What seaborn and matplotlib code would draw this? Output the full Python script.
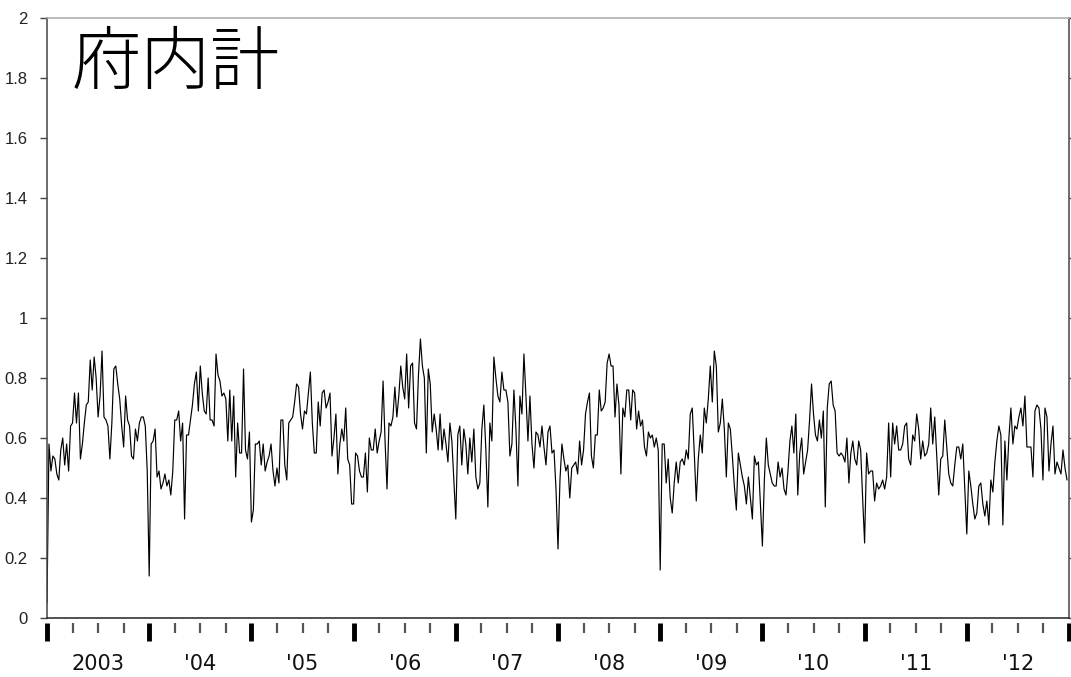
import numpy as np
import pandas as pd
import matplotlib
matplotlib.use("Agg")
import matplotlib.pyplot as plt
import seaborn as sns

# ---- data (weekly values, one list per year) ----
years = [2003, 2004, 2005, 2006, 2007, 2008, 2009, 2010, 2011, 2012]
v2003 = [0.05, 0.58, 0.49, 0.54, 0.53, 0.48, 0.46, 0.56, 0.60, 0.51, 0.58, 0.49, 0.64, 0.65,
         0.75, 0.65, 0.75, 0.53, 0.58, 0.65, 0.71, 0.72, 0.86, 0.76, 0.87, 0.80, 0.67, 0.74,
         0.89, 0.67, 0.66, 0.64, 0.53, 0.65, 0.83, 0.84, 0.78, 0.73, 0.64, 0.57, 0.74, 0.66,
         0.64, 0.54, 0.53, 0.63, 0.59, 0.65, 0.67, 0.67, 0.64, 0.49]
v2004 = [0.14, 0.58, 0.59, 0.63, 0.47, 0.49, 0.43, 0.45, 0.48, 0.44, 0.46, 0.41, 0.49, 0.66,
         0.66, 0.69, 0.59, 0.65, 0.33, 0.61, 0.61, 0.66, 0.71, 0.78, 0.82, 0.69, 0.84, 0.75,
         0.69, 0.68, 0.80, 0.66, 0.66, 0.64, 0.88, 0.81, 0.79, 0.74, 0.75, 0.73, 0.59, 0.76,
         0.59, 0.74, 0.47, 0.65, 0.55, 0.55, 0.83, 0.56, 0.53, 0.62]
v2005 = [0.32, 0.36, 0.58, 0.58, 0.59, 0.51, 0.58, 0.49, 0.52, 0.54, 0.58, 0.49, 0.44, 0.50,
         0.45, 0.66, 0.66, 0.51, 0.46, 0.65, 0.66, 0.67, 0.72, 0.78, 0.77, 0.68, 0.63, 0.69,
         0.68, 0.75, 0.82, 0.65, 0.55, 0.55, 0.72, 0.64, 0.75, 0.76, 0.70, 0.72, 0.75, 0.54,
         0.60, 0.68, 0.48, 0.58, 0.63, 0.59, 0.70, 0.53, 0.51, 0.38]
v2006 = [0.38, 0.55, 0.54, 0.49, 0.47, 0.47, 0.55, 0.42, 0.60, 0.56, 0.56, 0.63, 0.55, 0.59,
         0.62, 0.79, 0.59, 0.43, 0.65, 0.64, 0.67, 0.77, 0.67, 0.74, 0.84, 0.77, 0.73, 0.88,
         0.70, 0.84, 0.85, 0.65, 0.63, 0.81, 0.93, 0.84, 0.80, 0.55, 0.83, 0.78, 0.62, 0.68,
         0.63, 0.56, 0.68, 0.56, 0.63, 0.58, 0.52, 0.65, 0.59, 0.46]
v2007 = [0.33, 0.61, 0.64, 0.51, 0.63, 0.58, 0.48, 0.60, 0.52, 0.63, 0.47, 0.43, 0.45, 0.63,
         0.71, 0.56, 0.37, 0.65, 0.59, 0.87, 0.80, 0.74, 0.72, 0.82, 0.76, 0.76, 0.72, 0.54,
         0.58, 0.76, 0.63, 0.44, 0.74, 0.68, 0.88, 0.74, 0.59, 0.74, 0.58, 0.50, 0.62, 0.61,
         0.57, 0.64, 0.57, 0.51, 0.62, 0.64, 0.55, 0.56, 0.43]
v2008 = [0.23, 0.46, 0.58, 0.53, 0.49, 0.51, 0.40, 0.50, 0.51, 0.52, 0.48, 0.59, 0.51, 0.56,
         0.68, 0.72, 0.75, 0.54, 0.50, 0.61, 0.61, 0.76, 0.69, 0.70, 0.72, 0.85, 0.88, 0.84,
         0.84, 0.67, 0.78, 0.71, 0.48, 0.70, 0.67, 0.76, 0.76, 0.66, 0.76, 0.75, 0.63, 0.69,
         0.64, 0.66, 0.57, 0.54, 0.62, 0.60, 0.61, 0.57, 0.60, 0.56]
v2009 = [0.16, 0.58, 0.58, 0.45, 0.53, 0.40, 0.35, 0.45, 0.52, 0.45, 0.52, 0.53, 0.51, 0.56,
         0.53, 0.68, 0.70, 0.55, 0.39, 0.53, 0.61, 0.55, 0.70, 0.65, 0.73, 0.84, 0.72, 0.89,
         0.84, 0.62, 0.65, 0.73, 0.63, 0.47, 0.65, 0.63, 0.54, 0.44, 0.36, 0.55, 0.51, 0.47,
         0.44, 0.38, 0.47, 0.40, 0.33, 0.54, 0.51, 0.52, 0.38]
v2010 = [0.24, 0.46, 0.60, 0.51, 0.48, 0.45, 0.44, 0.44, 0.52, 0.47, 0.50, 0.43, 0.41, 0.49,
         0.59, 0.64, 0.55, 0.68, 0.41, 0.55, 0.60, 0.48, 0.52, 0.56, 0.66, 0.78, 0.68, 0.61,
         0.59, 0.66, 0.60, 0.69, 0.37, 0.70, 0.78, 0.79, 0.71, 0.69, 0.55, 0.54, 0.55, 0.54,
         0.52, 0.60, 0.45, 0.55, 0.59, 0.53, 0.51, 0.59, 0.56, 0.40]
v2011 = [0.25, 0.55, 0.48, 0.49, 0.49, 0.39, 0.45, 0.43, 0.44, 0.46, 0.43, 0.47, 0.65, 0.47,
         0.65, 0.58, 0.64, 0.56, 0.56, 0.58, 0.64, 0.65, 0.53, 0.51, 0.61, 0.59, 0.68, 0.63,
         0.53, 0.59, 0.54, 0.55, 0.58, 0.70, 0.58, 0.67, 0.54, 0.41, 0.53, 0.54, 0.66, 0.57,
         0.48, 0.45, 0.44, 0.51, 0.57, 0.57, 0.53, 0.58, 0.43]
v2012 = [0.28, 0.49, 0.44, 0.38, 0.33, 0.35, 0.44, 0.45, 0.38, 0.34, 0.39, 0.31, 0.46, 0.42,
         0.52, 0.59, 0.64, 0.61, 0.31, 0.59, 0.46, 0.60, 0.70, 0.58, 0.64, 0.63, 0.67, 0.70,
         0.64, 0.74, 0.57, 0.57, 0.57, 0.47, 0.69, 0.71, 0.70, 0.63, 0.46, 0.70, 0.67, 0.49,
         0.58, 0.64, 0.48, 0.52, 0.50, 0.48, 0.56, 0.50, 0.46]
year_values = [v2003, v2004, v2005, v2006, v2007, v2008, v2009, v2010, v2011, v2012]
year_labels = ["2003", "'04", "'05", "'06", "'07", "'08", "'09", "'10", "'11", "'12"]
title = "府内計"
y_ticks = [0, 0.2, 0.4, 0.6, 0.8, 1.0, 1.2, 1.4, 1.6, 1.8, 2.0]
y_tick_labels = ["0", "0.2", "0.4", "0.6", "0.8", "1", "1.2", "1.4", "1.6", "1.8", "2"]

# build a long table: position in fractional years
rows = []
for yr, vals in zip(years, year_values):
    n = len(vals)
    for i, v in enumerate(vals):
        rows.append({"t": yr + i / n, "value": v})
df = pd.DataFrame(rows)

sns.set_theme(style="white")
plt.rcParams["font.family"] = ["DejaVu Sans"]

fig = plt.figure(figsize=(10.71, 6.77), dpi=100)
ax = fig.add_axes([47 / 1071, 59 / 677, 1022 / 1071, 600 / 677])

sns.lineplot(data=df, x="t", y="value", ax=ax, color="black", linewidth=0.85,
             estimator=None, sort=True)

ax.set_xlim(years[0], years[-1] + 1)
ax.set_ylim(0, 2)
ax.set_xlabel("")
ax.set_ylabel("")

# y axis
ax.set_yticks(y_ticks)
ax.set_yticklabels(y_tick_labels, family=["Liberation Sans Narrow", "Liberation Sans", "DejaVu Sans"],
                   fontsize=12, color="#222222")
ax.tick_params(axis="y", which="major", direction="out", length=5, width=1, color="#444444",
               pad=9, left=True, right=True, labelleft=True, labelright=False)

# x labels centered in each year, no visible tick
ax.set_xticks([y + 0.5 for y in years])
ax.set_xticklabels(year_labels, fontsize=15, color="#111111")
ax.tick_params(axis="x", which="major", length=0, pad=26, bottom=True)

# spines
for side in ["left", "right", "bottom"]:
    ax.spines[side].set_visible(True)
ax.spines["left"].set_color("#444444")
ax.spines["right"].set_color("#444444")
ax.spines["bottom"].set_color("#222222")
ax.spines["top"].set_color("#aaaaaa")
for s in ax.spines.values():
    s.set_linewidth(1.1)

# separate tick band below the axis (years thick, quarters thin)
sec = ax.secondary_xaxis(-5 / 600)
sec.spines["bottom"].set_visible(False)
sec.set_xticks([y for y in years] + [years[-1] + 1])
sec.set_xticks([y + q / 4 for y in years for q in (1, 2, 3)], minor=True)
sec.tick_params(axis="x", which="major", direction="out", length=13, width=3.5, color="black",
                labelbottom=False)
sec.tick_params(axis="x", which="minor", direction="out", length=7.5, width=1.6, color="#555555",
                labelbottom=False)

ax.text(0.0245, 0.982, title, transform=ax.transAxes, ha="left", va="top", fontsize=50,
        family=["Noto Sans CJK JP", "DejaVu Sans"], fontweight="light", color="black")

fig.savefig("out.png", dpi=100, facecolor="white")
